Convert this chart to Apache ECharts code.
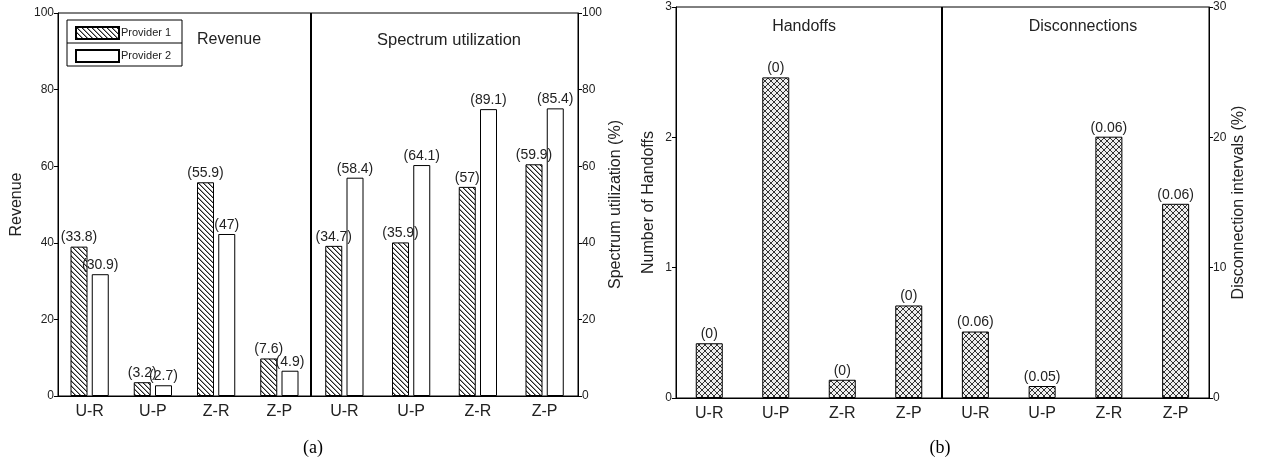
<!DOCTYPE html>
<html><head><meta charset="utf-8">
<script src="https://cdn.jsdelivr.net/npm/echarts@6/dist/echarts.min.js"></script>
<style>html,body{margin:0;padding:0;background:#fff}#c{width:1263px;height:463px}</style>
</head><body><div id="c"></div>
<script>
const categories = ['U-R', 'U-P', 'Z-R', 'Z-P'];
const revenueP1 = [39, 3.6, 55.8, 9.8];
const revenueP1Labels = [33.8, 3.2, 55.9, 7.6];
const revenueP2 = [31.8, 2.8, 42.3, 6.6];
const revenueP2Labels = [30.9, 2.7, 47, 4.9];
const spectrumP1 = [39.2, 40.1, 54.6, 60.5];
const spectrumP1Labels = [34.7, 35.9, 57, 59.9];
const spectrumP2 = [57, 60.3, 74.9, 75.1];
const spectrumP2Labels = [58.4, 64.1, 89.1, 85.4];
const handoffs = [0.42, 2.46, 0.14, 0.71];
const handoffsLabels = [0, 0, 0, 0];
const disconnections = [5.1, 0.92, 20.05, 14.9];
const disconnectionsLabels = [0.06, 0.05, 0.06, 0.06];

function hatch() {
  const n = 5;
  const c = document.createElement('canvas'); c.width = n; c.height = n;
  const x = c.getContext('2d'); x.fillStyle = '#fff'; x.fillRect(0, 0, n, n);
  for (let i = 0; i < n; i++) {
    x.fillStyle = '#222'; x.fillRect(i, i, 1, 1);
    x.fillStyle = '#999'; x.fillRect((i + 1) % n, i, 1, 1);
  }
  return c;
}
function cross() {
  const n = 6;
  const c = document.createElement('canvas'); c.width = n; c.height = n;
  const x = c.getContext('2d'); x.fillStyle = '#eee'; x.fillRect(0, 0, n, n);
  x.fillStyle = '#333';
  for (let i = 0; i < n; i++) { x.fillRect(i, i, 1, 1); x.fillRect(n - 1 - i, i, 1, 1); }
  return c;
}
const hatchFill = { image: hatch(), repeat: 'repeat' };
const crossFill = { image: cross(), repeat: 'repeat' };
const FONT = 'Liberation Sans';

function lbl(arr) {
  return { show: true, position: 'top', distance: 2, fontFamily: FONT, fontSize: 14, color: '#222',
    formatter: p => '(' + arr[p.dataIndex] + ')' };
}
function xAx(g) {
  return { type: 'category', gridIndex: g, data: categories,
    axisLine: { lineStyle: { color: '#000', width: 1 } }, axisTick: { show: false },
    axisLabel: { color: '#222', fontFamily: FONT, fontSize: 16, margin: 8 } };
}
function yAx(g, pos, max, interval, name, gap) {
  return { type: 'value', gridIndex: g, position: pos, min: 0, max: max, interval: interval,
    name: name, nameLocation: 'middle', nameGap: gap, nameRotate: 90,
    nameTextStyle: { fontFamily: FONT, fontSize: 16, color: '#222' },
    axisLine: { show: true, lineStyle: { color: '#000' } },
    axisTick: { show: true, length: 4, lineStyle: { color: '#000' } },
    splitLine: { show: false },
    axisLabel: { color: '#222', fontFamily: FONT, fontSize: 12, margin: 4 } };
}
const border = { show: true, borderColor: '#000', borderWidth: 1, backgroundColor: 'transparent' };
const p1Style = { color: hatchFill, borderColor: '#000', borderWidth: 1 };
const p2Style = { color: '#fff', borderColor: '#000', borderWidth: 1 };
const cStyle = { color: crossFill, borderColor: '#000', borderWidth: 1 };

const chart = echarts.init(document.getElementById('c'));
chart.setOption({
  animation: false,
  backgroundColor: '#fff',
  grid: [
    Object.assign({ left: 58, right: 952, top: 13, bottom: 67 }, border),
    Object.assign({ left: 311, right: 685, top: 13, bottom: 67 }, border),
    Object.assign({ left: 676, right: 321, top: 7, bottom: 65 }, border),
    Object.assign({ left: 942, right: 54, top: 7, bottom: 65 }, border)
  ],
  xAxis: [xAx(0), xAx(1), xAx(2), xAx(3)],
  yAxis: [
    yAx(0, 'left', 100, 20, 'Revenue', 33),
    yAx(1, 'right', 100, 20, 'Spectrum utilization (%)', 30),
    yAx(2, 'left', 3, 1, 'Number of Handoffs', 19),
    yAx(3, 'right', 30, 10, 'Disconnection intervals (%)', 21)
  ],
  legend: {
    orient: 'vertical', left: 70, top: 21, itemWidth: 43, itemHeight: 12, itemGap: 9, icon: 'rect',
    data: ['Provider 1', 'Provider 2'],
    textStyle: { fontFamily: FONT, fontSize: 11, color: '#222', padding: [0, 0, 0, -3] }
  },
  graphic: [
    { type: 'rect', shape: { x: 67, y: 20, width: 115, height: 46 }, style: { fill: 'none', stroke: '#000', lineWidth: 1 }, z: 100 },
    { type: 'line', shape: { x1: 67, y1: 43, x2: 182, y2: 43 }, style: { stroke: '#000', lineWidth: 1 }, z: 100 },
    { type: 'line', shape: { x1: 311, y1: 13, x2: 311, y2: 396 }, style: { stroke: '#000', lineWidth: 2 }, z: 100 },
    { type: 'line', shape: { x1: 942, y1: 7, x2: 942, y2: 398 }, style: { stroke: '#000', lineWidth: 2 }, z: 100 },
    { type: 'text', x: 229, y: 40, style: { text: 'Revenue', font: '16px "Liberation Sans"', fill: '#222', align: 'center', verticalAlign: 'middle' } },
    { type: 'text', x: 449, y: 40, style: { text: 'Spectrum utilization', font: '16.5px "Liberation Sans"', fill: '#222', align: 'center', verticalAlign: 'middle' } },
    { type: 'text', x: 804, y: 27, style: { text: 'Handoffs', font: '16px "Liberation Sans"', fill: '#222', align: 'center', verticalAlign: 'middle' } },
    { type: 'text', x: 1083, y: 27, style: { text: 'Disconnections', font: '16px "Liberation Sans"', fill: '#222', align: 'center', verticalAlign: 'middle' } },
    { type: 'text', x: 313, y: 448, style: { text: '(a)', font: '18px "Liberation Serif"', fill: '#000', align: 'center', verticalAlign: 'middle' } },
    { type: 'text', x: 940, y: 448, style: { text: '(b)', font: '18px "Liberation Serif"', fill: '#000', align: 'center', verticalAlign: 'middle' } }
  ],
  series: [
    { name: 'Provider 1', type: 'bar', xAxisIndex: 0, yAxisIndex: 0, data: revenueP1, barWidth: 17, barGap: '25%', itemStyle: p1Style, label: lbl(revenueP1Labels) },
    { name: 'Provider 2', type: 'bar', xAxisIndex: 0, yAxisIndex: 0, data: revenueP2, barWidth: 17, barGap: '25%', itemStyle: p2Style, label: lbl(revenueP2Labels) },
    { name: 'Provider 1', type: 'bar', xAxisIndex: 1, yAxisIndex: 1, data: spectrumP1, barWidth: 17, barGap: '25%', itemStyle: p1Style, label: lbl(spectrumP1Labels) },
    { name: 'Provider 2', type: 'bar', xAxisIndex: 1, yAxisIndex: 1, data: spectrumP2, barWidth: 17, barGap: '25%', itemStyle: p2Style, label: lbl(spectrumP2Labels) },
    { name: 'Handoffs', type: 'bar', xAxisIndex: 2, yAxisIndex: 2, data: handoffs, barWidth: 27, itemStyle: cStyle, label: lbl(handoffsLabels) },
    { name: 'Disconnections', type: 'bar', xAxisIndex: 3, yAxisIndex: 3, data: disconnections, barWidth: 27, itemStyle: cStyle, label: lbl(disconnectionsLabels) }
  ]
});
</script></body></html>
